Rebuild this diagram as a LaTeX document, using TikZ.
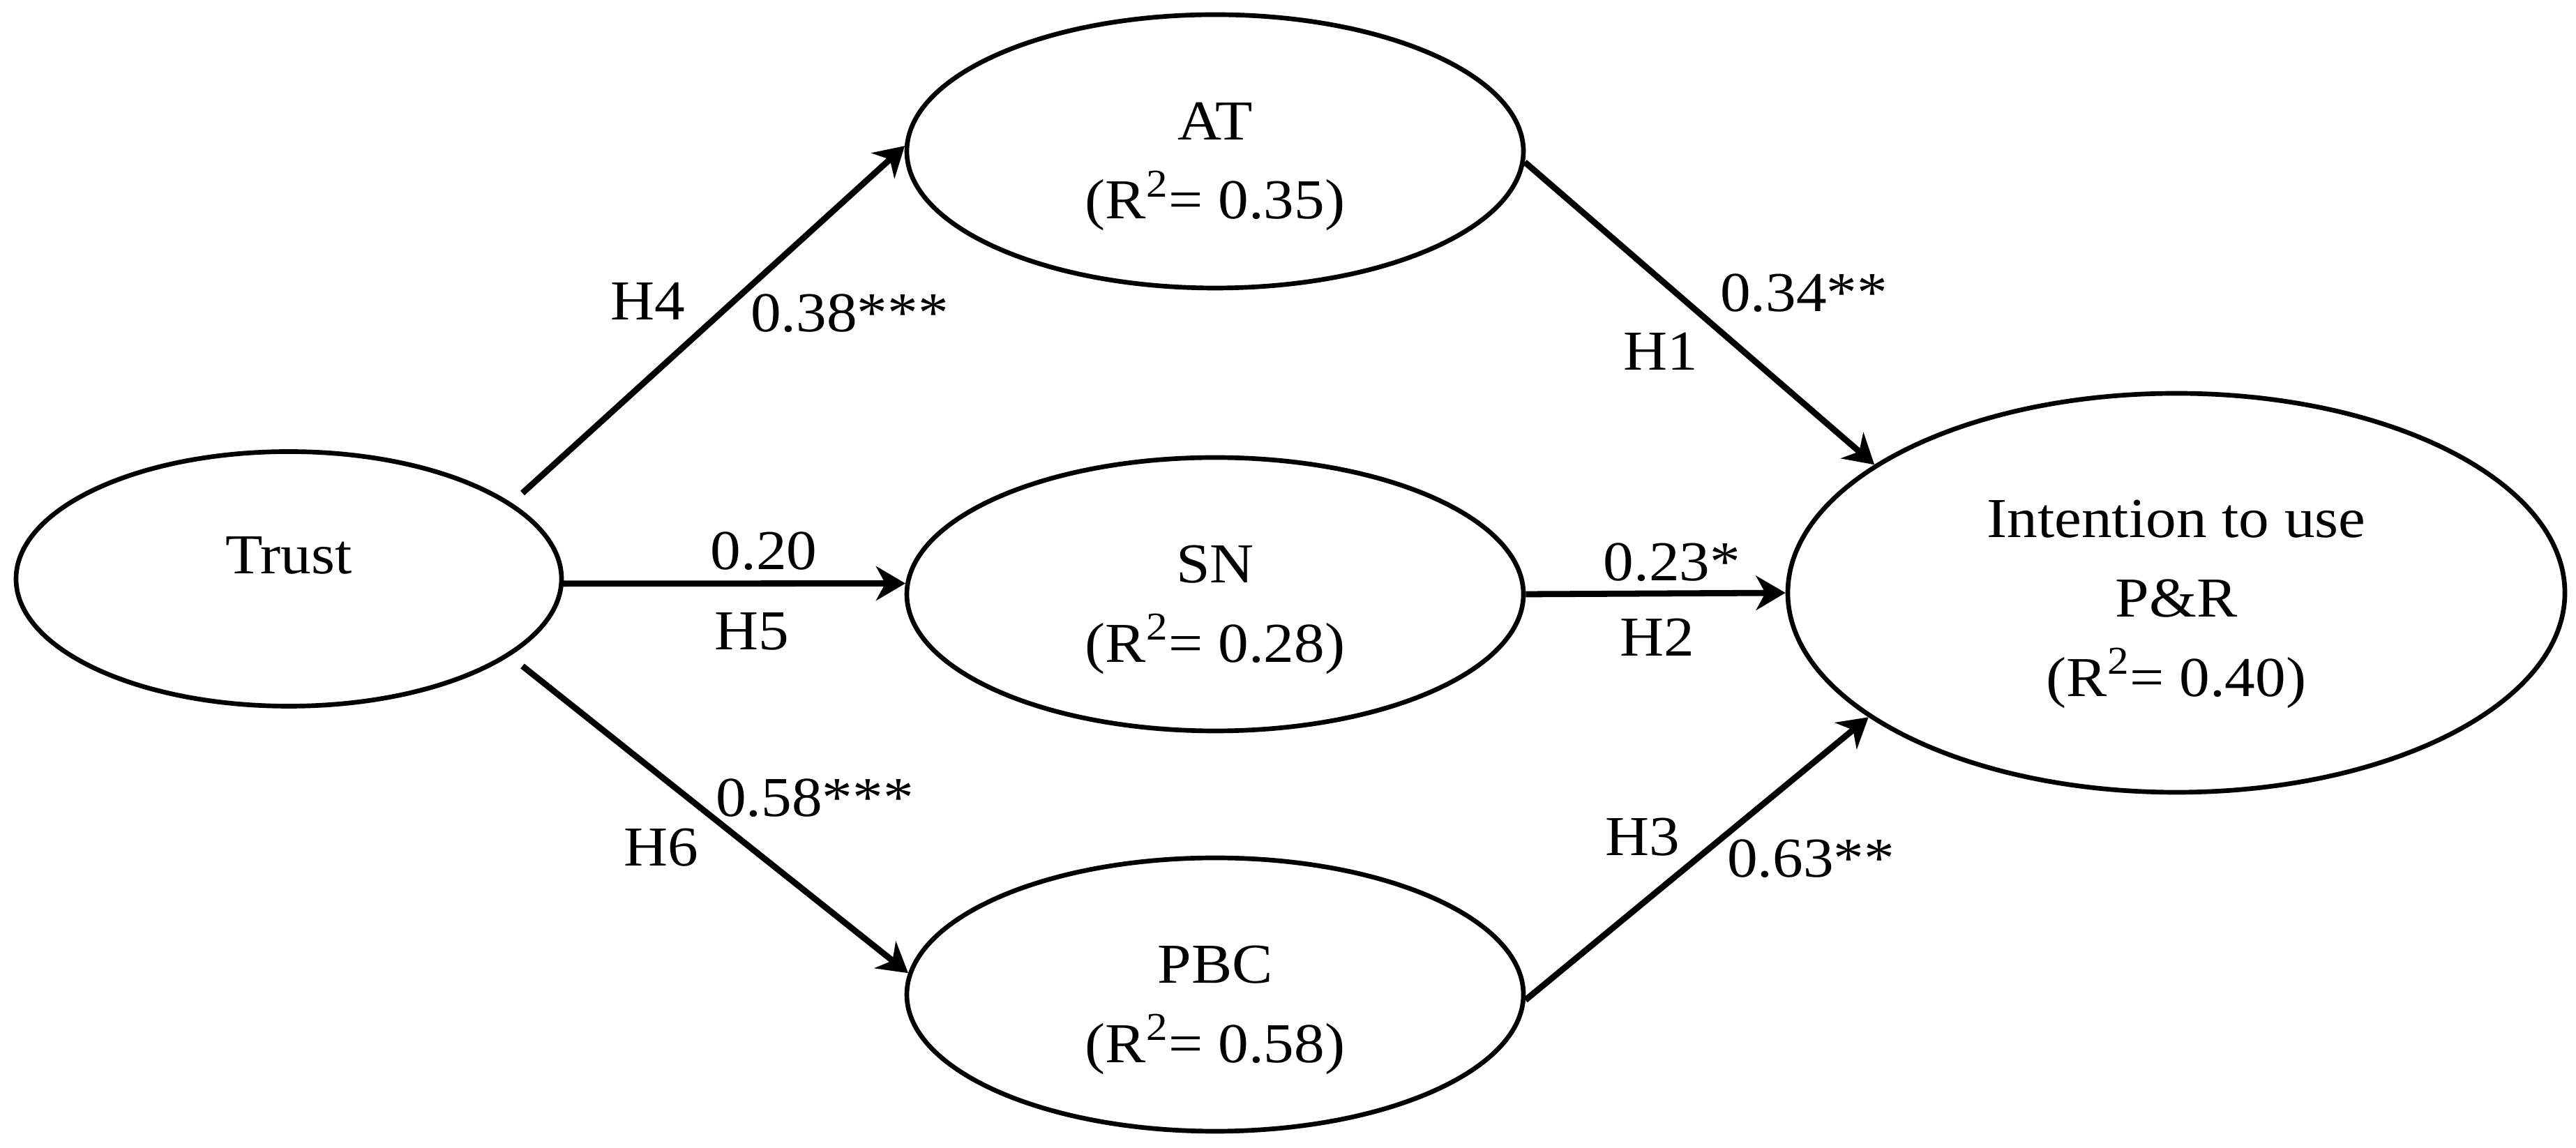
\documentclass[tikz,border=0pt]{standalone}
\usepackage{fontspec}
\setmainfont{Liberation Serif}[FakeStretch=1.08]
\usetikzlibrary{arrows.meta,shapes.geometric}

\begin{document}
\begin{tikzpicture}[x=1cm,y=1cm,font=\fontsize{23}{28}\selectfont,
latent/.style={ellipse,draw,line width=1.9pt,inner sep=0pt},
txt/.style={inner sep=0pt,align=center,font=\fontsize{23}{32.4}\selectfont},
arr/.style={-{Stealth[length=12pt,width=14pt,inset=3.8pt]},line width=2.5pt},
coef/.style={inner sep=0pt}]
\useasboundingbox (0,0) rectangle (36.93,16.46);

\node[latent,minimum width=7.82cm,minimum height=3.65cm] (trust)at(4.14,8.16){};
\node[latent,minimum width=8.84cm,minimum height=3.92cm] (at)at(17.42,14.29){};
\node[latent,minimum width=8.84cm,minimum height=3.92cm] (sn)at(17.42,7.94){};
\node[latent,minimum width=8.84cm,minimum height=3.92cm] (pbc)at(17.42,2.20){};
\node[latent,minimum width=11.14cm,minimum height=5.72cm] (int)at(31.20,7.96){};

\node[coef] (trusttxt)at(4.14,8.50){Trust};
\node[txt] (attxt)at([yshift=-2.2mm]at.center){AT\\(R\textsuperscript{2}= 0.35)};
\node[txt] (sntxt)at([yshift=-2.2mm]sn.center){SN\\(R\textsuperscript{2}= 0.28)};
\node[txt] (pbctxt)at([yshift=-2.2mm]pbc.center){PBC\\(R\textsuperscript{2}= 0.58)};
\node[txt] (inttxt)at([yshift=-1.6mm]int.center){Intention to use\\P\&R\\(R\textsuperscript{2}= 0.40)};

% free starts next to Trust
\coordinate (s4)at(7.49,9.39);
\coordinate (s6)at(7.49,6.91);

\draw[arr](s4)--(at.179);
\draw[arr](trust.-1.5)--(sn.178.4);
\draw[arr](s6)--(pbc.176);
\draw[arr](at.-2)--(int.157.7);
\draw[arr](sn.east)--(int.west);
\draw[arr](pbc.-1)--(int.202.6);

\node[coef] (h4)at(9.29,12.14){H4};
\node[coef] (b4)at(12.18,11.97){0.38***};
\node[coef] (b5)at(10.95,8.56){0.20};
\node[coef] (h5)at(10.78,7.41){H5};
\node[coef] (h6)at(9.48,4.31){H6};
\node[coef] (b6)at(11.68,5.02){0.58***};
\node[coef] (h1)at(23.81,11.42){H1};
\node[coef] (b1)at(25.86,12.26){0.34**};
\node[coef] (b2)at(23.97,8.40){0.23*};
\node[coef] (h2)at(23.76,7.32){H2};
\node[coef] (h3)at(23.55,4.46){H3};
\node[coef] (b3)at(25.96,4.15){0.63**};
\end{tikzpicture}
\end{document}
